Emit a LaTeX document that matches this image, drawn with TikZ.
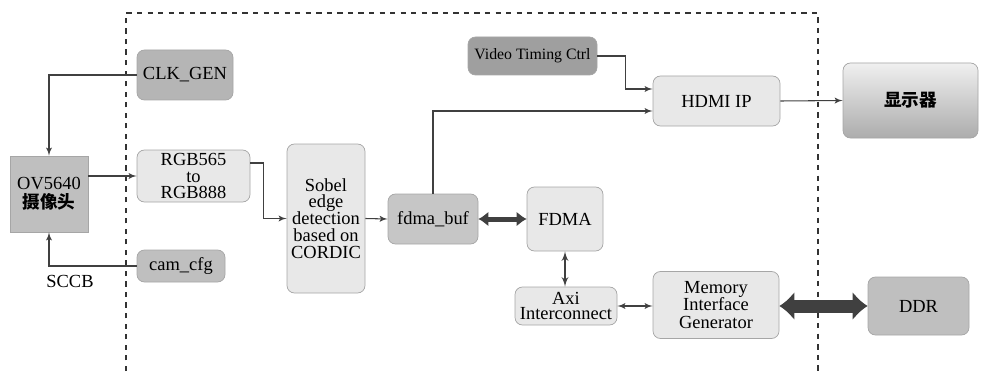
\documentclass[tikz,border=0pt]{standalone}
\usepackage{fontspec}
\setmainfont{Liberation Serif}
\newfontfamily\cjk{Noto Sans CJK SC}
\usetikzlibrary{arrows,arrows.meta}

\begin{document}
\begin{tikzpicture}[>=latex', scale=1.0, every node/.style={scale=1.0}]
      \tikzset{
	  lightbox/.style={rectangle, rounded corners=0.15cm, draw=gray!70, fill=gray!18, inner sep=0.04cm, align=center, font=\fontsize{10.5}{10}\selectfont},
	  darkbox/.style={lightbox, fill=gray!50},
	  blackbox/.style={lightbox, fill=gray!75},
	  wire/.style={draw=black!75, line width=0.6pt},
	  thickwire/.style={draw=black!75, line width=0.1cm, {Latex[length=0.2cm,width=0.3cm]}-{Latex[length=0.2cm,width=0.3cm]}},
	  fatwire/.style={draw=black!75, line width=0.26cm, {Latex[length=0.3cm,width=0.58cm]}-{Latex[length=0.3cm,width=0.58cm]}},
      }
      \useasboundingbox (0,0) rectangle (19.72,-7.42);

      % FPGA frame
      \draw[black!80, dashed, line width=0.6pt] (2.52,-7.42) -- (2.52,-0.26) -- (16.36,-0.26) -- (16.36,-7.42);

      % camera side
      \node (cam) at (0.98,-3.88) [darkbox, rounded corners=0pt, minimum width=1.56cm, minimum height=1.52cm] {OV5640\\[1pt]{\cjk\bfseries\fontsize{10}{10}\selectfont 摄像头}};
      \node (clk) at (3.70,-1.50) [darkbox, fill=gray!58, minimum width=1.92cm, minimum height=1.00cm] {CLK\_GEN};
      \node (rgb) at (3.87,-3.52) [lightbox, minimum width=2.26cm, minimum height=1.04cm, font=\fontsize{10.5}{9.5}\selectfont] {RGB565\\to\\RGB888};
      \node (cfg) at (3.62,-5.32) [darkbox, minimum width=1.76cm, minimum height=0.64cm] {cam\_cfg};
      \node (sccb) at (1.40,-5.62) [font=\fontsize{10.5}{10}\selectfont] {SCCB};

      % processing
      \node (sobel) at (6.52,-4.37) [lightbox, minimum width=1.56cm, minimum height=2.98cm, font=\fontsize{10.5}{9.6}\selectfont] {Sobel\\edge\\detection\\based on\\CORDIC};
      \node (buf) at (8.66,-4.38) [darkbox, fill=gray!45, minimum width=1.80cm, minimum height=1.00cm] {fdma\_buf};
      \node (fdma) at (11.30,-4.38) [lightbox, minimum width=1.52cm, minimum height=1.28cm] {FDMA};
      \node (axi) at (11.32,-6.12) [lightbox, minimum width=2.04cm, minimum height=0.76cm, font=\fontsize{10.5}{9}\selectfont] {Axi\\Interconnect};
      \node (mig) at (14.32,-6.10) [lightbox, minimum width=2.52cm, minimum height=1.34cm, font=\fontsize{10.5}{10}\selectfont] {Memory\\Interface\\Generator};
      \node (ddr) at (18.37,-6.12) [darkbox, minimum width=2.02cm, minimum height=1.16cm] {DDR};

      % display side
      \node (vtc) at (10.65,-1.12) [blackbox, minimum width=2.58cm, minimum height=0.76cm, font=\fontsize{9}{9}\selectfont] {Video Timing Ctrl};
      \node (hdmi) at (14.33,-2.02) [lightbox, minimum width=2.54cm, minimum height=1.00cm] {HDMI IP};
      \node (disp) at (18.21,-2.01) [lightbox, top color=gray!12, bottom color=gray!65, minimum width=2.70cm, minimum height=1.50cm] {{\cjk\bfseries\fontsize{10}{10}\selectfont 显示器}};

      % connections
      \draw[wire, ->] (clk.west) -| (cam.north);
      \draw[wire, ->] (cfg.west) -| (cam.south);
      \draw[wire, ->] (cam.east |- rgb.west) -- (rgb.west);
      \draw[wire, ->] ([yshift=0.26cm]rgb.east) -- ++(0.26,0) |- (sobel.west);
      \draw[wire, ->] (sobel.east) -- (buf.west);
      \draw[wire, ->] (buf.north) |- ([yshift=-0.2cm]hdmi.west);
      \draw[wire, ->] (vtc.east) -- ++(0.56,0) |- ([yshift=0.24cm]hdmi.west);
      \draw[wire, ->] (hdmi.east) -- (disp.west);
      \draw[thickwire] (buf.east) -- (fdma.west);
      \draw[wire, line width=0.9pt, <->] (fdma.south) -- (fdma.south |- axi.north);
      \draw[wire, <->] (axi.east) -- (mig.west |- axi.east);
      \draw[fatwire] (mig.east |- ddr.west) -- (ddr.west);
    \end{tikzpicture}
\end{document}
